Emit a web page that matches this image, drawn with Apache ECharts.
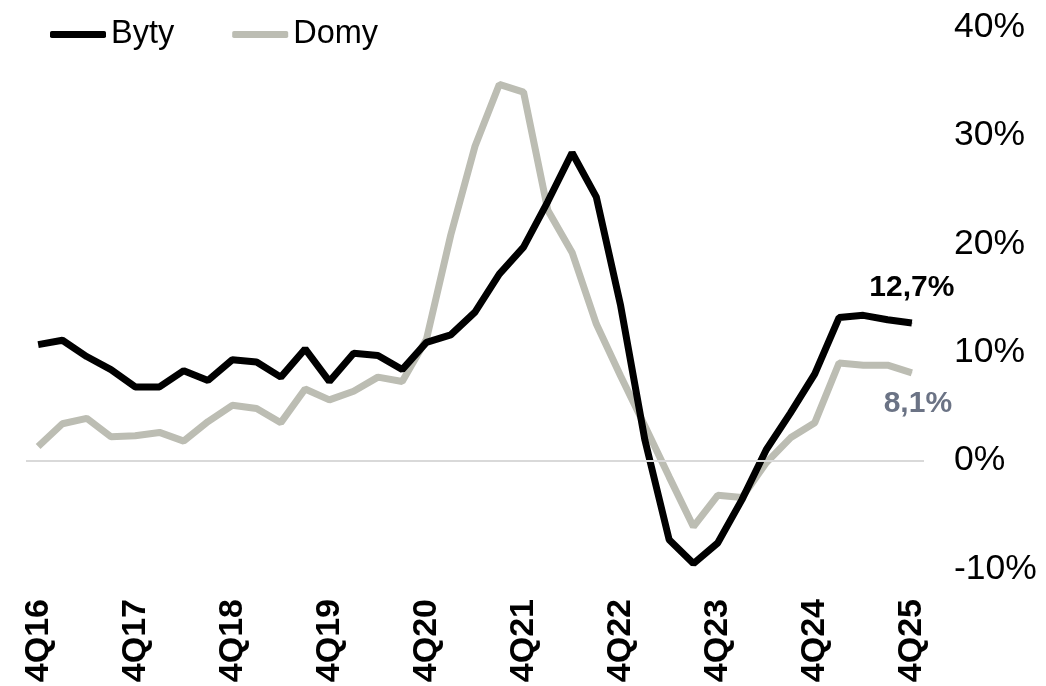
<!DOCTYPE html>
<html>
<head>
<meta charset="utf-8">
<script src="https://cdn.jsdelivr.net/npm/echarts@6/dist/echarts.min.js"></script>
<style>
  html, body { margin: 0; padding: 0; background: #fff; }
  #chart { width: 1046px; height: 686px; }
</style>
</head>
<body>
<div id="chart"></div>
<script>
// kwartały 4Q16 - 4Q25
var quarters = [
  '4Q16', '1Q17', '2Q17', '3Q17', '4Q17', '1Q18', '2Q18', '3Q18', '4Q18',
  '1Q19', '2Q19', '3Q19', '4Q19', '1Q20', '2Q20', '3Q20', '4Q20',
  '1Q21', '2Q21', '3Q21', '4Q21', '1Q22', '2Q22', '3Q22', '4Q22',
  '1Q23', '2Q23', '3Q23', '4Q23', '1Q24', '2Q24', '3Q24', '4Q24',
  '1Q25', '2Q25', '3Q25', '4Q25'
];
var byty = [
  10.7, 11.1, 9.6, 8.4, 6.8, 6.8, 8.3, 7.4, 9.3,
  9.1, 7.7, 10.3, 7.3, 9.9, 9.7, 8.4, 10.9,
  11.6, 13.7, 17.2, 19.7, 23.9, 28.4, 24.3, 14.3,
  1.9, -7.3, -9.5, -7.6, -3.6, 1.0, 4.4, 8.0,
  13.2, 13.4, 13.0, 12.7
];
var domy = [
  1.3, 3.4, 3.9, 2.2, 2.3, 2.6, 1.8, 3.6, 5.1,
  4.8, 3.5, 6.6, 5.6, 6.4, 7.7, 7.3, 11.2,
  20.8, 29.0, 34.7, 34.0, 23.1, 19.2, 12.6, 7.8,
  3.2, -1.5, -6.1, -3.2, -3.4, -0.2, 2.1, 3.5,
  9.0, 8.8, 8.8, 8.1
];
var seriesNames = ['Byty', 'Domy'];
var yTicks = { min: -10, max: 40, step: 10 };

var font = '"Liberation Sans", Arial, sans-serif';
var grayLine = '#bcbdb3';

// etykieta tylko przy ostatnim punkcie
function withEndLabel(values, color, pos, dist, dx) {
  return values.map(function (v, i) {
    if (i !== values.length - 1) return v;
    return {
      value: v,
      symbolSize: 1,
      label: {
        show: true,
        position: pos,
        distance: dist,
        offset: [dx, 0],
        color: color,
        fontFamily: font,
        fontWeight: 'bold',
        fontSize: 30,
        formatter: function (p) { return p.value.toFixed(1).replace('.', ',') + '%'; }
      }
    };
  });
}

var chart = echarts.init(document.getElementById('chart'));
chart.setOption({
  animation: false,
  backgroundColor: '#fff',
  textStyle: { fontFamily: font },
  legend: {
    left: 45,
    top: 13,
    itemWidth: 56,
    itemHeight: 7,
    itemGap: 58,
    icon: 'roundRect',
    textStyle: { fontFamily: font, fontSize: 32.5, color: '#000' },
    data: seriesNames
  },
  grid: { left: 26, right: 122, top: 27, bottom: 117 },
  xAxis: {
    type: 'category',
    data: quarters,
    boundaryGap: true,
    axisLine: { show: false },
    axisTick: { show: false },
    axisLabel: {
      interval: 3,
      rotate: 90,
      margin: 30,
      color: '#000',
      fontFamily: font,
      fontWeight: 'bold',
      fontSize: 34
    }
  },
  yAxis: {
    type: 'value',
    position: 'right',
    min: yTicks.min,
    max: yTicks.max,
    interval: yTicks.step,
    axisLine: { show: false },
    axisTick: { show: false },
    splitLine: { show: false },
    axisLabel: {
      margin: 30,
      color: '#000',
      fontFamily: font,
      fontSize: 35.5,
      formatter: '{value}%'
    }
  },
  series: [
    {
      name: seriesNames[0],
      type: 'line',
      data: withEndLabel(byty, '#000', 'top', 20, 0),
      symbol: 'circle',
      symbolSize: 0,
      showAllSymbol: true,
      z: 3,
      lineStyle: { color: '#000', width: 7 },
      itemStyle: { color: '#000' },
      markLine: {
        silent: true,
        symbol: 'none',
        label: { show: false },
        lineStyle: { color: '#d9d9d9', width: 2, type: 'solid' },
        data: [{ yAxis: 0 }]
      }
    },
    {
      name: seriesNames[1],
      type: 'line',
      data: withEndLabel(domy, '#6b7385', 'bottom', 15, 6),
      symbol: 'circle',
      symbolSize: 0,
      showAllSymbol: true,
      z: 2,
      lineStyle: { color: grayLine, width: 7 },
      itemStyle: { color: grayLine }
    }
  ]
});
</script>
</body>
</html>
